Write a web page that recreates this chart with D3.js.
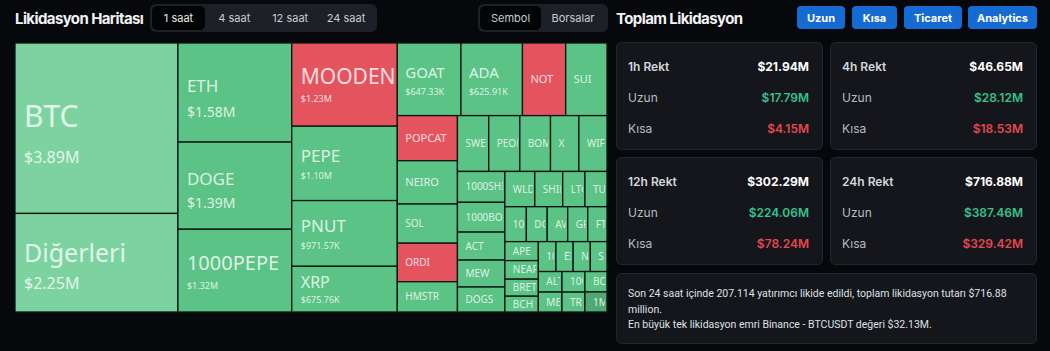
<!DOCTYPE html>
<html lang="tr">
<head>
<meta charset="utf-8">
<title>Likidasyon Haritası</title>
<script src="https://d3js.org/d3.v7.min.js"></script>
<style>
  html, body { margin: 0; padding: 0; background: #07080c; }
  svg { display: block; }
  .ui { font-family: Inter, "Noto Sans", sans-serif; }
  .cell text { font-family: "Noto Sans", "Open Sans", sans-serif; fill: rgba(255,255,255,0.8); }
</style>
</head>
<body>
<svg id="chart" width="1050" height="351"></svg>
<script>
// treemap data (1 saat)
const names = ["BTC", "Diğerleri", "ETH", "DOGE", "1000PEPE", "MOODENG", "PEPE", "PNUT", "XRP",
  "GOAT", "ADA", "NOT", "SUI", "POPCAT", "NEIRO", "SOL", "ORDI", "HMSTR",
  "SWELL", "PEOPLE", "BOME", "X", "WIF", "1000SHIB", "1000BONK", "ACT", "MEW", "DOGS",
  "WLD", "SHIB", "LTC", "TURBO", "1000SATS", "DOT", "AVAX", "GRASS", "FTM",
  "APE", "NEAR", "BRETT", "BCH", "1000RATS", "EIGEN", "NEIROETH", "SCR",
  "ALT", "MEME", "1000CAT", "TRB", "BOND", "1MBABYDOGE"];
const values = [3890000, 2250000, 1580000, 1390000, 1320000, 1230000, 1100000, 971570, 675760,
  647330, 625910, 440000, 420000, 380000, 365000, 330000, 325000, 255000,
  245000, 243000, 240000, 222000, 220000, 205000, 198000, 186000, 179000, 166000,
  148000, 138000, 110000, 109000, 105000, 102000, 100000, 98000, 94000,
  89000, 87000, 80000, 74000, 74000, 72000, 72000, 70000,
  68000, 66000, 66000, 64000, 63000, 62000];
// heat level: 2 strong long, 1 long, 0 weak long, -1 short
const heat = [2, 2, 1, 1, 1, -1, 1, 1, 1,
  1, 1, -1, 1, -1, 1, 1, -1, 1,
  1, 1, 1, 1, 1, 1, 1, 1, 1, 1,
  1, 1, 1, 1, 1, 1, 1, 1, 1,
  1, 1, 1, 1, 1, 1, 1, 1,
  1, 1, 1, 1, 1, 0];

// summary cards
const cardTitles = ["1h Rekt", "4h Rekt", "12h Rekt", "24h Rekt"];
const cardTotals = ["$21.94M", "$46.65M", "$302.29M", "$716.88M"];
const cardLongs = ["$17.79M", "$28.12M", "$224.06M", "$387.46M"];
const cardShorts = ["$4.15M", "$18.53M", "$78.24M", "$329.42M"];

const periods = ["1 saat", "4 saat", "12 saat", "24 saat"];
const views = ["Sembol", "Borsalar"];
const actions = ["Uzun", "Kısa", "Ticaret", "Analytics"];
const summaryLines = [
  "Son 24 saat içinde 207.114 yatırımcı likide edildi, toplam likidasyon tutarı $716.88",
  "million.",
  "En büyük tek likidasyon emri Binance - BTCUSDT değeri $32.13M."
];

// label sizes for the bigger cells: [name size, value size, gap]
const bigLabels = {
  "BTC": [30, 16, 36], "Diğerleri": [25, 16, 27], "ETH": [17, 14, 25], "DOGE": [17, 14, 23],
  "1000PEPE": [20, 9, 19], "MOODENG": [21, 9, 18], "PEPE": [17, 9, 17], "PNUT": [17, 9, 17],
  "XRP": [16, 9, 15], "GOAT": [15, 9, 17], "ADA": [15, 9, 17]
};

function fmt(v) {
  if (v >= 1e6) return "$" + (v / 1e6).toFixed(2) + "M";
  return "$" + (v / 1e3).toFixed(2) + "K";
}

// cut a label down so it only spills a little past its cell (the clip hides the rest)
function fitText(sel, room) {
  let s = sel.text();
  while (s.length > 1 && sel.node().getComputedTextLength() > room) {
    s = s.slice(0, -1);
    sel.text(s);
  }
}

const svg = d3.select("#chart");
const color = d3.scaleOrdinal().domain([2, 1, 0, -1]).range(["#7dd3a0", "#5bc385", "#4fa975", "#e4545f"]);

// ---------- header ----------
const ui = svg.append("g").attr("class", "ui");
ui.append("text").attr("x", 15).attr("y", 24).attr("fill", "#f2f3f5")
  .style("font-size", "15px").style("font-weight", 700).style("letter-spacing", "-0.6px")
  .text("Likidasyon Haritası");

ui.append("rect").attr("x", 150).attr("y", 4).attr("width", 227).attr("height", 28).attr("rx", 6).attr("fill", "#1d2026");
const periodX = d3.scalePoint().domain(periods).range([178.5, 346]);
ui.append("rect").attr("x", 152).attr("y", 6).attr("width", 53).attr("height", 24).attr("rx", 5).attr("fill", "#030405");
ui.selectAll(".period").data(periods).join("text").attr("class", "period")
  .attr("x", d => periodX(d)).attr("y", 22).attr("text-anchor", "middle")
  .attr("fill", (d, i) => i === 0 ? "#e8eaed" : "#c9ccd2").style("font-size", "11px").text(d => d);

ui.append("rect").attr("x", 478).attr("y", 4).attr("width", 130).attr("height", 28).attr("rx", 6).attr("fill", "#1d2026");
ui.append("rect").attr("x", 480).attr("y", 6).attr("width", 61).attr("height", 24).attr("rx", 5).attr("fill", "#030405");
ui.selectAll(".view").data(views).join("text").attr("class", "view")
  .attr("x", (d, i) => i === 0 ? 510.5 : 573).attr("y", 22).attr("text-anchor", "middle")
  .attr("fill", "#c9ccd2").style("font-size", "11px").text(d => d);

ui.append("text").attr("x", 616).attr("y", 24).attr("fill", "#f2f3f5")
  .style("font-size", "15px").style("font-weight", 700).style("letter-spacing", "-0.6px")
  .text("Toplam Likidasyon");

const btnX = [797, 852, 904, 968];
const btnW = [48, 45, 58, 69];
const btns = ui.selectAll(".btn").data(actions).join("g").attr("class", "btn")
  .attr("transform", (d, i) => `translate(${btnX[i]},6)`);
btns.append("rect").attr("width", (d, i) => btnW[i]).attr("height", 23).attr("rx", 4).attr("fill", "#166bd2");
btns.append("text").attr("x", (d, i) => btnW[i] / 2).attr("y", 15.5).attr("text-anchor", "middle")
  .attr("fill", "#ffffff").style("font-size", "11px").style("font-weight", 700).text(d => d);

// ---------- treemap ----------
const tmX = 15, tmY = 43, tmW = 592, tmH = 269;
const leaves = names.map((n, i) => ({ name: n, value: values[i], heat: heat[i] }));
const root = d3.hierarchy({ children: leaves }).sum(d => d.value || 0).sort((a, b) => b.value - a.value);
d3.treemap().tile(d3.treemapSquarify).size([tmW, tmH])(root);

const tm = svg.append("g").attr("transform", `translate(${tmX},${tmY})`);
const cells = tm.selectAll("g.cell").data(root.leaves()).join("g").attr("class", "cell")
  .attr("transform", d => `translate(${d.x0},${d.y0})`);
cells.append("clipPath").attr("id", (d, i) => "clip" + i)
  .append("rect").attr("width", d => Math.max(0, d.x1 - d.x0 - 2)).attr("height", d => d.y1 - d.y0);
cells.append("rect").attr("width", d => d.x1 - d.x0).attr("height", d => d.y1 - d.y0)
  .attr("fill", d => color(d.data.heat)).attr("stroke", "#0e1512").attr("stroke-width", 1.3);

cells.each(function (d, i) {
  const g = d3.select(this).append("g").attr("clip-path", `url(#clip${i})`);
  const w = d.x1 - d.x0, h = d.y1 - d.y0, cy = h / 2;
  const big = bigLabels[d.data.name];
  const pad = w > 90 ? 9 : 8;
  if (big) {
    const t = g.append("text").attr("x", pad).attr("y", cy - 1).style("font-size", big[0] + "px").text(d.data.name);
    fitText(t, w - pad + 4);
    g.append("text").attr("x", pad).attr("y", cy - 1 + big[2]).style("font-size", big[1] + "px").text(fmt(d.data.value));
  } else {
    const fs = w > 38 && h > 40 ? 11 : 10;
    const t = g.append("text").attr("x", pad).attr("y", cy + fs * 0.36).style("font-size", fs + "px").text(d.data.name);
    fitText(t, w - pad + 3);
  }
});

// ---------- summary cards ----------
const cardX = [616, 830], cardY = [42, 157];
const cards = svg.append("g").attr("class", "ui").selectAll(".card").data(cardTitles).join("g")
  .attr("transform", (d, i) => `translate(${cardX[i % 2]},${cardY[Math.floor(i / 2)]})`);
cards.append("rect").attr("x", 0.5).attr("y", 0.5).attr("width", 206).attr("height", 107).attr("rx", 5)
  .attr("fill", "#14161b").attr("stroke", "#23262d");
cards.append("text").attr("x", 12).attr("y", 29).attr("fill", "#d3d6db")
  .style("font-size", "12px").style("font-weight", 600).text(d => d);
cards.append("text").attr("x", 193).attr("y", 29).attr("text-anchor", "end").attr("fill", "#ffffff")
  .style("font-size", "12px").style("font-weight", 700).text((d, i) => cardTotals[i]);
cards.append("text").attr("x", 12).attr("y", 60).attr("fill", "#b9bcc3").style("font-size", "12px").text("Uzun");
cards.append("text").attr("x", 193).attr("y", 60).attr("text-anchor", "end").attr("fill", "#35c28f")
  .style("font-size", "12px").style("font-weight", 600).text((d, i) => cardLongs[i]);
cards.append("text").attr("x", 12).attr("y", 91).attr("fill", "#b9bcc3").style("font-size", "12px").text("Kısa");
cards.append("text").attr("x", 193).attr("y", 91).attr("text-anchor", "end").attr("fill", "#e5484f")
  .style("font-size", "12px").style("font-weight", 600).text((d, i) => cardShorts[i]);

// ---------- summary text ----------
const note = svg.append("g").attr("class", "ui");
note.append("rect").attr("x", 616.5).attr("y", 273.5).attr("width", 420).attr("height", 70).attr("rx", 5)
  .attr("fill", "#14161b").attr("stroke", "#23262d");
note.selectAll("text").data(summaryLines).join("text")
  .attr("x", 628).attr("y", (d, i) => 297 + i * 15.5).attr("fill", "#dfe1e5")
  .style("font-family", "Roboto, sans-serif").style("font-size", "10.5px").text(d => d);
</script>
</body>
</html>
